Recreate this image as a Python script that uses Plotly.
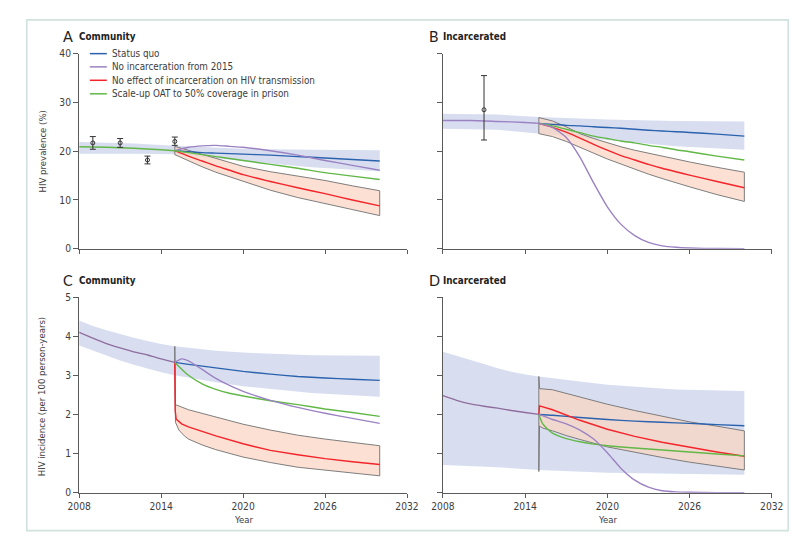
import plotly.graph_objects as go

# ---------------- colours ----------------
C_BLUE = "#2a62ae"
C_PURPLE = "#9b82c2"
C_RED = "#f5232a"
C_GREEN = "#62b847"
C_BLUEBAND = "#d8def0"
C_REDBAND = "rgba(250,214,196,0.75)"
C_OUTLINE = "#707070"
C_AXIS = "#5a5a5a"
C_TEXT = "#3c3c3c"
FONT = "DejaVu Sans Condensed, Lato, Arial, sans-serif"
FONT_L = "Lato, Arial, sans-serif"

# ---------------- labels ----------------
legend_labels = ["Status quo", "No incarceration from 2015",
                 "No effect of incarceration on HIV transmission",
                 "Scale-up OAT to 50% coverage in prison"]
x_ticks = [2008, 2014, 2020, 2026, 2032]
prev_ticks = [0, 10, 20, 30, 40]
inc_ticks = [0, 1, 2, 3, 4, 5]

# ---------------- Panel A: community prevalence ----------------
a_pre_years = [2008, 2010, 2012, 2014, 2015]
a_pre = [20.9, 20.8, 20.6, 20.3, 20.1]
a_post_years = [2015, 2016, 2017, 2018, 2019, 2020, 2022, 2024, 2026, 2028, 2030]
a_blue = [20.1, 19.9, 19.7, 19.6, 19.5, 19.4, 19.2, 18.9, 18.6, 18.3, 18.0]
a_purple = [20.1, 20.8, 21.1, 21.2, 21.0, 20.8, 20.1, 19.2, 18.1, 17.1, 16.1]
a_green = [20.1, 19.7, 19.3, 18.9, 18.5, 18.1, 17.3, 16.5, 15.6, 14.9, 14.2]
a_red = [20.1, 19.0, 18.0, 17.0, 16.1, 15.2, 13.8, 12.5, 11.3, 10.0, 8.8]
a_red_hi = [21.0, 20.2, 19.4, 18.6, 17.7, 16.9, 15.8, 14.9, 14.0, 12.9, 11.9]
a_red_lo = [19.3, 18.0, 16.8, 15.7, 14.7, 13.8, 12.0, 10.5, 9.2, 8.0, 6.8]
a_band_years = [2008, 2012, 2015, 2018, 2020, 2025, 2030]
a_band_hi = [21.9, 21.6, 21.1, 20.7, 20.5, 20.3, 20.2]
a_band_lo = [19.5, 19.5, 19.4, 18.6, 18.0, 16.7, 15.9]
a_obs_years = [2009, 2011, 2013, 2015]
a_obs = [21.7, 21.7, 18.2, 22.0]
a_obs_hi = [23.0, 22.6, 19.0, 22.9]
a_obs_lo = [20.4, 20.8, 17.4, 21.2]

# ---------------- Panel B: incarcerated prevalence ----------------
b_pre_years = [2008, 2010, 2012, 2014, 2015]
b_pre = [26.3, 26.3, 26.1, 25.9, 25.7]
b_post_years = [2015, 2016, 2017, 2018, 2019, 2020, 2021, 2022, 2023, 2024, 2025, 2026, 2028, 2030]
b_blue = [25.7, 25.5, 25.3, 25.2, 25.0, 24.85, 24.7, 24.5, 24.3, 24.15, 24.0, 23.85, 23.5, 23.1]
b_green = [25.7, 25.2, 24.5, 23.8, 23.1, 22.6, 22.1, 21.7, 21.2, 20.8, 20.3, 19.9, 19.0, 18.2]
b_red = [25.7, 24.9, 23.9, 22.7, 21.4, 20.2, 19.1, 18.2, 17.3, 16.5, 15.8, 15.1, 13.8, 12.5]
b_red_hi = [26.9, 26.2, 25.0, 23.6, 22.6, 21.7, 20.9, 20.2, 19.6, 18.9, 18.4, 17.8, 16.7, 15.7]
b_red_lo = [23.6, 23.0, 22.0, 20.8, 19.6, 18.4, 17.3, 16.3, 15.3, 14.4, 13.5, 12.7, 11.1, 9.7]
b_purple = [25.7, 24.9, 22.8, 18.8, 13.5, 8.6, 5.0, 2.7, 1.3, 0.6, 0.3, 0.15, 0.04, 0.0]
b_band_years = [2008, 2012, 2015, 2018, 2020, 2025, 2030]
b_band_hi = [27.7, 27.5, 27.0, 26.7, 26.5, 26.2, 26.1]
b_band_lo = [24.6, 24.4, 23.6, 22.8, 22.3, 21.0, 20.3]
b_obs_years = [2011]
b_obs = [28.5]
b_obs_hi = [35.5]
b_obs_lo = [22.3]

# ---------------- Panel C: community incidence ----------------
c_pre_years = [2008, 2009, 2010, 2011, 2012, 2013, 2014, 2015]
c_pre = [4.10, 3.95, 3.81, 3.70, 3.60, 3.52, 3.42, 3.33]
c_blue_years = [2015, 2016, 2018, 2020, 2022, 2024, 2026, 2028, 2030]
c_blue = [3.33, 3.28, 3.19, 3.10, 3.03, 2.97, 2.93, 2.90, 2.87]
c_purple_years = [2015, 2015.5, 2016, 2017, 2018, 2019, 2020, 2022, 2024, 2026, 2028, 2030]
c_purple = [3.33, 3.42, 3.37, 3.15, 2.92, 2.74, 2.59, 2.36, 2.18, 2.03, 1.90, 1.77]
c_green_years = [2015, 2016, 2017, 2018, 2019, 2020, 2022, 2024, 2026, 2028, 2030]
c_green = [3.33, 3.0, 2.78, 2.64, 2.54, 2.47, 2.35, 2.25, 2.14, 2.05, 1.95]
c_red_years = [2015, 2015.03, 2015.1, 2015.5, 2016, 2017, 2018, 2020, 2022, 2024, 2026, 2028, 2030]
c_red = [3.33, 2.1, 1.88, 1.76, 1.68, 1.56, 1.45, 1.25, 1.08, 0.97, 0.87, 0.79, 0.72]
c_red_hi_years = [2015, 2015.05, 2016, 2018, 2020, 2022, 2024, 2026, 2028, 2030]
c_red_hi = [3.74, 2.25, 2.12, 1.93, 1.75, 1.60, 1.47, 1.37, 1.28, 1.20]
c_red_lo_years = [2015, 2015.05, 2015.3, 2015.7, 2016, 2017, 2018, 2020, 2022, 2024, 2026, 2028, 2030]
c_red_lo = [3.0, 1.80, 1.60, 1.45, 1.37, 1.22, 1.10, 0.91, 0.77, 0.65, 0.57, 0.50, 0.43]
c_band_years = [2008, 2009, 2010, 2011, 2012, 2013, 2014, 2015, 2018, 2020, 2025, 2030]
c_band_hi = [4.40, 4.26, 4.15, 4.05, 3.96, 3.88, 3.80, 3.74, 3.63, 3.58, 3.51, 3.50]
c_band_lo = [3.76, 3.62, 3.50, 3.38, 3.27, 3.17, 3.08, 3.00, 2.82, 2.72, 2.55, 2.45]

# ---------------- Panel D: incarcerated incidence ----------------
d_pre_years = [2008, 2009, 2010, 2011, 2012, 2013, 2014, 2015]
d_pre = [2.48, 2.36, 2.27, 2.21, 2.16, 2.10, 2.05, 2.0]
d_blue_years = [2015, 2016, 2018, 2020, 2022, 2024, 2026, 2028, 2030]
d_blue = [2.0, 1.98, 1.92, 1.87, 1.83, 1.80, 1.77, 1.74, 1.71]
d_red_years = [2015, 2015.05, 2016, 2017, 2018, 2020, 2022, 2024, 2026, 2028, 2030]
d_red = [2.0, 2.22, 2.12, 1.98, 1.85, 1.62, 1.44, 1.29, 1.16, 1.04, 0.93]
d_green_years = [2015, 2015.3, 2016, 2017, 2018, 2019, 2020, 2022, 2024, 2026, 2028, 2030]
d_green = [2.0, 1.75, 1.52, 1.38, 1.30, 1.24, 1.20, 1.14, 1.09, 1.04, 0.99, 0.94]
d_purple_years = [2015, 2016, 2017, 2018, 2019, 2020, 2021, 2022, 2023, 2024, 2025, 2026, 2028, 2030]
d_purple = [2.0, 1.87, 1.76, 1.60, 1.37, 1.02, 0.62, 0.32, 0.14, 0.05, 0.02, 0.01, 0.0, 0.0]
d_red_hi_years = [2015, 2015.05, 2016, 2018, 2020, 2022, 2024, 2026, 2028, 2030]
d_red_hi = [2.97, 2.66, 2.63, 2.45, 2.26, 2.10, 1.95, 1.81, 1.70, 1.58]
d_red_lo_years = [2015, 2015.05, 2015.3, 2016, 2017, 2018, 2020, 2022, 2024, 2026, 2028, 2030]
d_red_lo = [0.54, 1.70, 1.65, 1.58, 1.46, 1.36, 1.17, 1.03, 0.90, 0.78, 0.68, 0.58]
d_band_hi_years = [2008, 2009, 2010, 2011, 2012, 2013, 2014, 2015, 2018, 2020, 2025, 2030]
d_band_hi = [3.60, 3.50, 3.40, 3.29, 3.18, 3.09, 3.02, 2.97, 2.84, 2.76, 2.64, 2.60]
d_band_lo_years = [2008, 2012, 2015, 2020, 2025, 2030]
d_band_lo = [0.71, 0.65, 0.58, 0.51, 0.48, 0.46]

fig = go.Figure()


def band(xh, yh, xl, yl, fill, outline, ax):
    xs = list(xh) + list(xl)[::-1] + [xh[0]]
    ys = list(yh) + list(yl)[::-1] + [yh[0]]
    fig.add_trace(go.Scatter(
        x=xs, y=ys, mode="lines", fill="toself", fillcolor=fill,
        line=dict(color=outline if outline else "rgba(0,0,0,0)", width=0.9 if outline else 0),
        xaxis="x" + ax, yaxis="y" + ax, showlegend=False, hoverinfo="skip"))


def line(x, y, color, ax, shape="spline", width=1.4):
    fig.add_trace(go.Scatter(
        x=x, y=y, mode="lines", line=dict(color=color, width=width, shape=shape, smoothing=0.6),
        xaxis="x" + ax, yaxis="y" + ax, showlegend=False))


def obs(x, y, hi, lo, ax):
    fig.add_trace(go.Scatter(
        x=x, y=y, mode="markers",
        marker=dict(symbol="circle-open", size=4, color="#333333", line=dict(width=1)),
        error_y=dict(type="data", symmetric=False,
                     array=[h - v for h, v in zip(hi, y)],
                     arrayminus=[v - l for l, v in zip(lo, y)],
                     color="#333333", thickness=1, width=3),
        xaxis="x" + ax, yaxis="y" + ax, showlegend=False))


# Panel A
band(a_band_years, a_band_hi, a_band_years, a_band_lo, C_BLUEBAND, None, "")
band(a_post_years, a_red_hi, a_post_years, a_red_lo, C_REDBAND, C_OUTLINE, "")
line(a_post_years, a_blue, C_BLUE, "")
line(a_post_years, a_red, C_RED, "")
line(a_post_years, a_purple, C_PURPLE, "")
line(a_post_years, a_green, C_GREEN, "")
line(a_pre_years, a_pre, C_GREEN, "")
obs(a_obs_years, a_obs, a_obs_hi, a_obs_lo, "")

# Panel B
band(b_band_years, b_band_hi, b_band_years, b_band_lo, C_BLUEBAND, None, "2")
band(b_post_years, b_red_hi, b_post_years, b_red_lo, C_REDBAND, C_OUTLINE, "2")
line(b_post_years, b_blue, C_BLUE, "2")
line(b_post_years, b_red, C_RED, "2")
line(b_post_years, b_green, C_GREEN, "2")
line(b_post_years, b_purple, C_PURPLE, "2")
line(b_pre_years, b_pre, C_PURPLE, "2")
obs(b_obs_years, b_obs, b_obs_hi, b_obs_lo, "2")

# Panel C
band(c_band_years, c_band_hi, c_band_years, c_band_lo, C_BLUEBAND, None, "3")
band(c_red_hi_years, c_red_hi, c_red_lo_years, c_red_lo, C_REDBAND, C_OUTLINE, "3")
line(c_blue_years, c_blue, C_BLUE, "3")
line(c_red_years, c_red, C_RED, "3", shape="linear")
line(c_green_years, c_green, C_GREEN, "3")
line(c_purple_years, c_purple, C_PURPLE, "3")
line(c_pre_years, c_pre, "#8f6e9e", "3")

# Panel D
band(d_band_hi_years, d_band_hi, d_band_lo_years, d_band_lo, C_BLUEBAND, None, "4")
band(d_red_hi_years, d_red_hi, d_red_lo_years, d_red_lo, C_REDBAND, C_OUTLINE, "4")
line(d_blue_years, d_blue, C_BLUE, "4")
line(d_red_years, d_red, C_RED, "4", shape="linear")
line(d_green_years, d_green, C_GREEN, "4")
line(d_purple_years, d_purple, C_PURPLE, "4")
line(d_pre_years, d_pre, "#8f6e9e", "4")

W, H = 800, 537


def px(x):
    return x / W


def py(y):
    return 1 - y / H


axis_common = dict(showline=True, linecolor=C_AXIS, linewidth=1.3, ticks="outside",
                   ticklen=5, tickwidth=1.2, tickcolor=C_AXIS, showgrid=False,
                   zeroline=False, tickfont=dict(family=FONT, size=10.2, color=C_TEXT))

dom_left = [px(61), px(399)]
dom_right = [px(436), px(775)]
dom_top = [py(240.7), py(41.5)]
dom_bot = [py(489.7), py(290)]

xa = dict(axis_common, range=[2008, 2032], tickvals=x_ticks, ticklen=4)
fig.update_layout(
    width=W, height=H, margin=dict(l=0, r=0, t=0, b=0),
    paper_bgcolor="white", plot_bgcolor="rgba(0,0,0,0)",
    font=dict(family=FONT, color=C_TEXT),
    xaxis=dict(xa, domain=dom_left, anchor="y", showticklabels=False),
    yaxis=dict(axis_common, domain=dom_top, anchor="x", range=[0, 40], tickvals=prev_ticks),
    xaxis2=dict(xa, domain=dom_right, anchor="y2", showticklabels=False),
    yaxis2=dict(axis_common, domain=dom_top, anchor="x2", range=[0, 40], tickvals=prev_ticks,
                showticklabels=False),
    xaxis3=dict(xa, domain=dom_left, anchor="y3"),
    yaxis3=dict(axis_common, domain=dom_bot, anchor="x3", range=[0, 5], tickvals=inc_ticks),
    xaxis4=dict(xa, domain=dom_right, anchor="y4"),
    yaxis4=dict(axis_common, domain=dom_bot, anchor="x4", range=[0, 5], tickvals=inc_ticks,
                showticklabels=False),
    showlegend=False,
)

ann = []
shapes = []
# frame
shapes.append(dict(type="rect", xref="paper", yref="paper", x0=px(7), x1=px(792),
                   y0=py(528.5), y1=py(7), line=dict(color="#cfe2dd", width=1.6)))

# panel titles
for letter, name, xl, xt, yc in [("A", "Community", 42.5, 59, 24),
                                 ("B", "Incarcerated", 420, 434.5, 24),
                                 ("C", "Community", 42.5, 59, 273),
                                 ("D", "Incarcerated", 420, 434.5, 273)]:
    ann.append(dict(text=letter, x=px(xl), y=py(yc), xref="paper", yref="paper",
                    xanchor="left", yanchor="middle", showarrow=False,
                    font=dict(family=FONT_L, size=14.5, color="#222222")))
    ann.append(dict(text="<b>" + name + "</b>", x=px(xt), y=py(yc + 0.5), xref="paper",
                    yref="paper", xanchor="left", yanchor="middle", showarrow=False,
                    font=dict(family=FONT, size=9.8, color="#222222")))

# axis titles
ann.append(dict(text="HIV prevalence (%)", x=px(23), y=py(141), xref="paper", yref="paper",
                textangle=-90, showarrow=False, xanchor="center", yanchor="middle",
                font=dict(family=FONT, size=9.5, color=C_TEXT)))
ann.append(dict(text="HIV incidence (per 100 person-years)", x=px(23), y=py(391),
                xref="paper", yref="paper", textangle=-90, showarrow=False,
                xanchor="center", yanchor="middle",
                font=dict(family=FONT, size=9.5, color=C_TEXT)))
for xc in [230, 605.5]:
    ann.append(dict(text="Year", x=px(xc), y=py(517.5), xref="paper", yref="paper",
                    showarrow=False, xanchor="center", yanchor="middle",
                    font=dict(family=FONT, size=9.5, color=C_TEXT)))

# legend (drawn inside panel A)
leg_colors = [C_BLUE, C_PURPLE, C_RED, C_GREEN]
leg_y = [41.5, 55, 68.7, 82.5]
for lab, col, yy in zip(legend_labels, leg_colors, leg_y):
    shapes.append(dict(type="line", xref="paper", yref="paper", x0=px(72), x1=px(89.5),
                       y0=py(yy), y1=py(yy), line=dict(color=col, width=1.5)))
    ann.append(dict(text=lab, x=px(93), y=py(yy), xref="paper", yref="paper",
                    xanchor="left", yanchor="middle", showarrow=False,
                    font=dict(family=FONT, size=9.8, color=C_TEXT)))

fig.update_layout(annotations=ann, shapes=shapes)
fig.write_html("out.html")
